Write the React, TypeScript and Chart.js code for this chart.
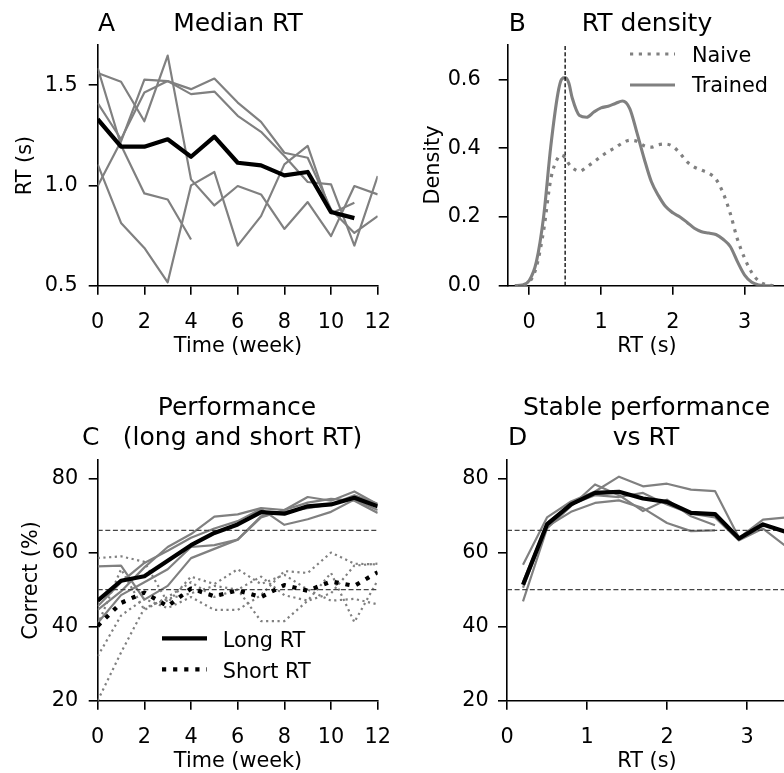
import React, { useEffect, useRef } from "react";
import { Chart, registerables } from "chart.js";

Chart.register(...registerables);

const FONT = "'DejaVu Sans', 'Liberation Sans', sans-serif";
const TICK = 20.8;
const TITLE = 25;
const GRAY = "#808080";
const REF = "#444444";
const CW = 800;
const CH = 773;
const XPAD = 15.2;
const XH = 60;

// ---------- Panel A: Median RT ----------
const weeks = [0, 1, 2, 3, 4, 5, 6, 7, 8, 9, 10, 11, 12];
const weekTicks = [0, 2, 4, 6, 8, 10, 12];
const rtTicks = [0.5, 1.0, 1.5];
const medianRtMean = [1.33, 1.193, 1.193, 1.23, 1.143, 1.243, 1.113, 1.1, 1.05, 1.067, 0.867, 0.837];
const medianRtS1 = [0.997, 1.22, 1.527, 1.52, 1.48, 1.533, 1.413, 1.317, 1.163, 1.138, 0.88, 0.763, 0.847];
const medianRtS2 = [1.41, 1.23, 1.463, 1.52, 1.455, 1.468, 1.347, 1.267, 1.147, 1.017, 1.005, 0.7, 1.047];
const medianRtS3 = [1.585, 1.2, 0.96, 0.93, 0.73];
const medianRtS4 = [1.56, 1.517, 1.32, 1.647, 1.03, 0.9, 0.997, 0.955, 0.783, 0.917, 0.747, 0.997, 0.955];
const medianRtS5 = [1.105, 0.813, 0.688, 0.517, 1.0, 1.067, 0.7, 0.847, 1.105, 1.197, 0.86, 0.913];

// ---------- Panel B: RT density ----------
const densityX = [-0.2, -0.1, 0, 0.1, 0.2, 0.3, 0.4, 0.45, 0.5, 0.55, 0.6, 0.7, 0.8, 0.9, 1.0, 1.1, 1.2, 1.3, 1.4, 1.5, 1.6, 1.7, 1.8, 1.9, 2.0, 2.1, 2.2, 2.3, 2.4, 2.5, 2.6, 2.7, 2.8, 2.9, 3.0, 3.1, 3.2, 3.3, 3.4];
const densityTrained = [0, 0.002, 0.015, 0.07, 0.2, 0.405, 0.56, 0.6, 0.605, 0.59, 0.545, 0.495, 0.49, 0.505, 0.517, 0.522, 0.53, 0.537, 0.515, 0.445, 0.37, 0.303, 0.262, 0.23, 0.212, 0.2, 0.184, 0.167, 0.157, 0.153, 0.149, 0.135, 0.114, 0.07, 0.031, 0.01, 0.002, 0, 0];
const densityNaive = [0, 0.001, 0.01, 0.055, 0.16, 0.31, 0.372, 0.38, 0.372, 0.355, 0.343, 0.333, 0.345, 0.36, 0.376, 0.39, 0.402, 0.415, 0.423, 0.42, 0.407, 0.403, 0.41, 0.412, 0.405, 0.385, 0.36, 0.345, 0.336, 0.327, 0.31, 0.27, 0.21, 0.135, 0.08, 0.038, 0.013, 0.003, 0];
const densityXTicks = [0, 1, 2, 3];
const densityYTicks = [0, 0.2, 0.4, 0.6];
const rtThreshold = 0.5;

// ---------- Panel C: Performance ----------
const correctTicks = [20, 40, 60, 80];
const chanceLevel = 50;
const criterionLevel = 66;
const longRtMean = [47.0, 52.4, 53.6, 57.8, 62.0, 65.3, 67.6, 70.9, 70.5, 72.5, 73.0, 74.8, 72.5];
const shortRtMean = [40.2, 46.4, 49.2, 45.5, 50.3, 48.2, 49.8, 48.0, 51.2, 49.7, 52.2, 51.0, 54.7];
const longRtS1 = [56.3, 56.5, 47.3, 51.0, 58.5, 61.0, 63.5, 69.5, 71.5, 75.0, 74.0, 76.5, 73.0];
const longRtS2 = [44.5, 49.5, 56.0, 61.5, 65.0, 69.7, 70.3, 72.0, 71.5, 73.5, 74.5, 74.0, 70.7];
const longRtS3 = [45.5, 52.0, 57.2, 60.5, 64.0, 66.5, 68.5, 71.8, 67.5, 69.0, 71.0, 74.3, 71.5];
const longRtS4 = [41.0, 48.5, 52.0, 55.5, 61.5, 62.0, 63.5, 69.8, 71.0, 72.0, 73.0, 75.5, 73.2];
const shortRtS1 = [20.0, 33.0, 45.0, 47.5, 49.0, 51.0, 50.0, 41.5, 41.5, 47.0, 49.0, 56.5, 57.0];
const shortRtS2 = [32.0, 43.0, 47.5, 45.0, 48.0, 44.5, 44.5, 48.5, 55.0, 54.5, 60.0, 57.0, 56.8];
const shortRtS3 = [58.5, 59.0, 57.5, 46.5, 53.5, 51.5, 55.5, 51.5, 54.0, 50.0, 47.0, 47.5, 46.0];
const shortRtS4 = [40.5, 55.5, 44.5, 48.0, 52.0, 48.0, 50.0, 53.5, 48.5, 47.0, 54.5, 41.2, 52.5];

// ---------- Panel D: Stable performance vs RT ----------
const rtBins = [0.2, 0.5, 0.8, 1.1, 1.4, 1.7, 2.0, 2.3, 2.6, 2.9, 3.2, 3.5];
const rtBinTicks = [0, 1, 2, 3];
const stableMean = [51.3, 67.6, 73.0, 76.1, 76.4, 74.6, 73.7, 70.7, 70.4, 63.8, 67.6, 65.5];
const stableS1 = [56.7, 69.5, 73.8, 76.5, 80.5, 77.9, 78.6, 77.0, 76.6, 64.0, 68.9, 69.5];
const stableS2 = [46.8, 66.5, 72.5, 78.4, 75.5, 71.2, 74.3, 69.8, 67.4];
const stableS3 = [50.5, 67.0, 71.0, 73.4, 74.1, 72.0, 68.0, 65.8, 66.0];
const stableS4 = [52.0, 68.0, 73.0, 75.5, 75.0, 76.1, 73.0, 70.5, 69.5, 63.3, 66.5, 61.5];

// ---------- helpers ----------
const pts = (xs: number[], ys: number[]) => ys.map((y, i) => ({ x: xs[i], y }));

function line(data: any[], color: string, width: number, dash: number[] = [], order = 1, extra: any = {}) {
  return {
    data,
    borderColor: color,
    backgroundColor: color,
    borderWidth: width,
    borderDash: dash,
    borderJoinStyle: "round",
    borderCapStyle: "butt",
    pointRadius: 0,
    pointHoverRadius: 0,
    tension: 0,
    fill: false,
    order,
    ...extra,
  };
}

function linAxis(o: { min: number; max: number; ticks: number[]; fmt: (v: number) => string; pad: number; fit: (s: any) => void }) {
  return {
    type: "linear",
    min: o.min,
    max: o.max,
    afterBuildTicks: (s: any) => {
      s.ticks = o.ticks.map((v) => ({ value: v }));
    },
    afterFit: o.fit,
    grid: {
      drawOnChartArea: false,
      drawTicks: true,
      tickLength: 9,
      tickWidth: 1.6,
      tickColor: "#000",
      color: "#000",
      lineWidth: 1.6,
    },
    border: { display: true, color: "#000", width: 1.6 },
    ticks: {
      color: "#000",
      font: { family: FONT, size: TICK },
      padding: o.pad,
      autoSkip: false,
      maxRotation: 0,
      minRotation: 0,
      callback: (v: any) => o.fmt(Number(v)),
    },
  };
}

type Txt = { t: string; x: number; y: number; size?: number; align?: CanvasTextAlign; rot?: boolean };
type Leg = { label: string; x1: number; x2: number; y: number; tx: number; ty: number; color: string; width: number; dash: number[] };

function decor(texts: Txt[], legend: Leg[] = []) {
  return {
    id: "decor",
    afterDraw(chart: any) {
      const ctx: CanvasRenderingContext2D = chart.ctx;
      ctx.save();
      ctx.fillStyle = "#000";
      ctx.textBaseline = "alphabetic";
      for (const tx of texts) {
        ctx.font = `${tx.size ?? TICK}px ${FONT}`;
        ctx.textAlign = tx.align ?? "center";
        if (tx.rot) {
          ctx.save();
          ctx.translate(tx.x, tx.y);
          ctx.rotate(-Math.PI / 2);
          ctx.fillText(tx.t, 0, 0);
          ctx.restore();
        } else {
          ctx.fillText(tx.t, tx.x, tx.y);
        }
      }
      for (const l of legend) {
        ctx.strokeStyle = l.color;
        ctx.lineWidth = l.width;
        ctx.lineCap = "butt";
        ctx.setLineDash(l.dash);
        ctx.beginPath();
        ctx.moveTo(l.x1, l.y);
        ctx.lineTo(l.x2, l.y);
        ctx.stroke();
        ctx.setLineDash([]);
        ctx.font = `${TICK}px ${FONT}`;
        ctx.textAlign = "left";
        ctx.fillStyle = "#000";
        ctx.fillText(l.label, l.tx, l.ty);
      }
      ctx.restore();
    },
  };
}

function baseOptions(padding: any, x: any, y: any) {
  return {
    responsive: false,
    maintainAspectRatio: false,
    animation: false,
    events: [],
    devicePixelRatio: 1,
    layout: { padding, autoPadding: false },
    plugins: { legend: { display: false }, title: { display: false }, tooltip: { enabled: false } },
    scales: { x, y },
  };
}

const fmtInt = (v: number) => String(Math.round(v));
const fmt1 = (v: number) => v.toFixed(1);

// ---------- panel configs ----------
function panelA(): any {
  return {
    type: "line",
    data: {
      datasets: [
        line(pts(weeks, medianRtMean), "#000", 4.2, [], 0),
        ...[medianRtS1, medianRtS2, medianRtS3, medianRtS4, medianRtS5].map((s) => line(pts(weeks, s), GRAY, 2.2, [], 1)),
      ],
    },
    options: baseOptions(
      { left: 0, top: 45, right: CW - 377.7, bottom: CH - 285.7 - XH },
      linAxis({ min: 0, max: 12, ticks: weekTicks, fmt: fmtInt, pad: XPAD, fit: (s) => { s.height = XH; } }),
      linAxis({ min: 0.5, max: 1.7, ticks: rtTicks, fmt: fmt1, pad: 11, fit: (s) => { s.width = 97.7; } })
    ),
    plugins: [
      decor([
        { t: "A", x: 98, y: 30.5, size: TITLE, align: "left" },
        { t: "Median RT", x: 238, y: 30.5, size: TITLE },
        { t: "RT (s)", x: 30.5, y: 165.5, rot: true },
        { t: "Time (week)", x: 238, y: 351.7 },
      ]),
    ],
  };
}

function panelB(): any {
  return {
    type: "line",
    data: {
      datasets: [
        line(pts(densityX, densityTrained), GRAY, 3.1, [], 1, { cubicInterpolationMode: "monotone" }),
        line(pts(densityX, densityNaive), GRAY, 3.2, [3.2, 5.6], 2, { cubicInterpolationMode: "monotone" }),
        line([{ x: rtThreshold, y: 0 }, { x: rtThreshold, y: 0.7 }], "#000", 1.3, [4, 2.2], 0),
      ],
    },
    options: baseOptions(
      { left: 410, top: 45, right: CW - 787.7, bottom: CH - 285.7 - XH },
      linAxis({ min: -0.3, max: 3.6, ticks: densityXTicks, fmt: fmtInt, pad: XPAD, fit: (s) => { s.height = XH; } }),
      linAxis({ min: 0, max: 0.7, ticks: densityYTicks, fmt: fmt1, pad: 18, fit: (s) => { s.width = 97.7; } })
    ),
    plugins: [
      decor(
        [
          { t: "B", x: 508.7, y: 30.5, size: TITLE, align: "left" },
          { t: "RT density", x: 647, y: 30.5, size: TITLE },
          { t: "Density", x: 439, y: 165, rot: true },
          { t: "RT (s)", x: 647, y: 351.7 },
        ],
        [
          { label: "Naive", x1: 630, x2: 675, y: 54, tx: 692, ty: 61.7, color: GRAY, width: 3.2, dash: [3.2, 5.6] },
          { label: "Trained", x1: 630, x2: 675, y: 85, tx: 692, ty: 91.7, color: GRAY, width: 3.1, dash: [] },
        ]
      ),
    ],
  };
}

function panelC(): any {
  return {
    type: "line",
    data: {
      datasets: [
        line(pts(weeks, longRtMean), "#000", 4.2, [], 0),
        line(pts(weeks, shortRtMean), "#000", 4.2, [4.2, 6.9], 0),
        ...[longRtS1, longRtS2, longRtS3, longRtS4].map((s) => line(pts(weeks, s), GRAY, 2.2, [], 2)),
        ...[shortRtS1, shortRtS2, shortRtS3, shortRtS4].map((s) => line(pts(weeks, s), GRAY, 2.2, [2.2, 3.5], 3)),
        line([{ x: 0, y: criterionLevel }, { x: 12, y: criterionLevel }], REF, 1.3, [5, 2.6], 1),
        line([{ x: 0, y: chanceLevel }, { x: 12, y: chanceLevel }], REF, 1.3, [5, 2.6], 1),
      ],
    },
    options: baseOptions(
      { left: 0, top: 460, right: CW - 377.7, bottom: CH - 700.7 - XH },
      linAxis({ min: 0, max: 12, ticks: weekTicks, fmt: fmtInt, pad: XPAD, fit: (s) => { s.height = XH; } }),
      linAxis({ min: 20, max: 85, ticks: correctTicks, fmt: fmtInt, pad: 10.4, fit: (s) => { s.width = 97.7; } })
    ),
    plugins: [
      decor(
        [
          { t: "Performance", x: 237, y: 415, size: TITLE },
          { t: "C", x: 82, y: 445, size: TITLE, align: "left" },
          { t: "(long and short RT)", x: 242.5, y: 445, size: TITLE },
          { t: "Correct (%)", x: 37, y: 580.4, rot: true },
          { t: "Time (week)", x: 238, y: 766.7 },
        ],
        [
          { label: "Long RT", x1: 162, x2: 207, y: 638.3, tx: 222.7, ty: 646.7, color: "#000", width: 4.2, dash: [] },
          { label: "Short RT", x1: 162, x2: 207, y: 669.3, tx: 222.7, ty: 677.5, color: "#000", width: 4.2, dash: [4.2, 6.9] },
        ]
      ),
    ],
  };
}

function panelD(): any {
  return {
    type: "line",
    data: {
      datasets: [
        line(pts(rtBins, stableMean), "#000", 4.2, [], 0),
        ...[stableS1, stableS2, stableS3, stableS4].map((s) => line(pts(rtBins, s), GRAY, 2.2, [], 2)),
        line([{ x: 0, y: criterionLevel }, { x: 3.5, y: criterionLevel }], REF, 1.3, [5, 2.6], 1),
        line([{ x: 0, y: chanceLevel }, { x: 3.5, y: chanceLevel }], REF, 1.3, [5, 2.6], 1),
      ],
    },
    options: baseOptions(
      { left: 410, top: 460, right: CW - 787, bottom: CH - 700.7 - XH },
      linAxis({ min: 0, max: 3.5, ticks: rtBinTicks, fmt: fmtInt, pad: XPAD, fit: (s) => { s.height = XH; } }),
      linAxis({ min: 20, max: 85, ticks: correctTicks, fmt: fmtInt, pad: 9.3, fit: (s) => { s.width = 97; } })
    ),
    plugins: [
      decor([
        { t: "Stable performance", x: 646.5, y: 415, size: TITLE },
        { t: "D", x: 508, y: 445, size: TITLE, align: "left" },
        { t: "vs RT", x: 646, y: 445, size: TITLE },
        { t: "RT (s)", x: 647, y: 766.7 },
      ]),
    ],
  };
}

function Panel({ make }: { make: () => any }) {
  const ref = useRef<HTMLCanvasElement>(null);
  useEffect(() => {
    const chart = new Chart(ref.current as HTMLCanvasElement, make());
    return () => chart.destroy();
  }, []);
  return (
    <canvas
      ref={ref}
      width={CW}
      height={CH}
      style={{ position: "absolute", left: 0, top: 0, width: CW, height: CH, display: "block" }}
    />
  );
}

export default function App() {
  return (
    <div
      style={{
        position: "fixed",
        left: 0,
        top: 0,
        width: 784,
        height: 773,
        overflow: "hidden",
        background: "#fff",
      }}
    >
      <Panel make={panelA} />
      <Panel make={panelB} />
      <Panel make={panelC} />
      <Panel make={panelD} />
    </div>
  );
}
